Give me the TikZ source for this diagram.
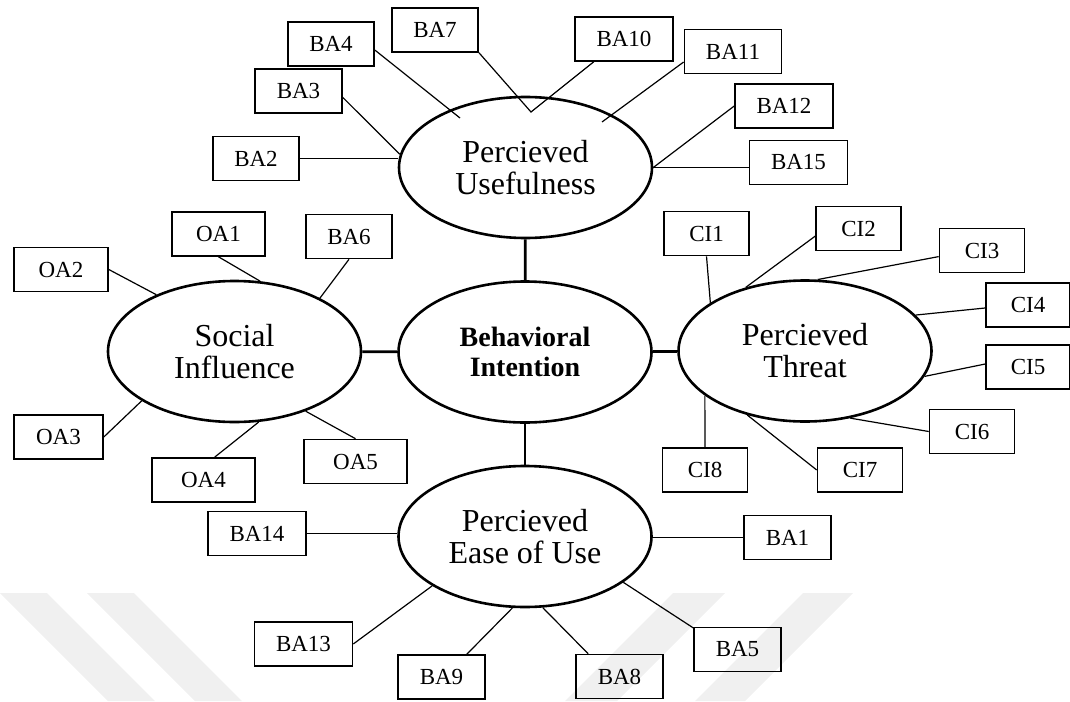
\documentclass[tikz,border=0pt]{standalone}
\usepackage{fontspec}
\setmainfont{Liberation Serif}
\usetikzlibrary{shapes.geometric}
\begin{document}
\begin{tikzpicture}[x=1pt,y=-1pt,
        construct/.style={draw,ellipse,line width=2.6pt,minimum width=253pt,minimum height=141pt,inner sep=0pt,align=center,font=\fontsize{32}{32}\selectfont},
        item/.style={draw,line width=1.6pt,minimum width=85pt,minimum height=44pt,inner xsep=21.5pt,inner ysep=0pt,font=\fontsize{23}{23}\selectfont},
        link/.style={line width=1.2pt},
        bond/.style={line width=2.8pt},
        mark stripe/.style={fill=black!6}]
        \useasboundingbox (0,0) rectangle (1070,701);

        \fill[mark stripe] (0,593) -- (47,593) -- (155,701) -- (108,701) -- cycle;
        \fill[mark stripe] (87,593) -- (134,593) -- (242,701) -- (195,701) -- cycle;
        \fill[mark stripe] (673,593) -- (725,593) -- (617,701) -- (565,701) -- cycle;
        \fill[mark stripe] (803,593) -- (853,593) -- (745,701) -- (695,701) -- cycle;

        \node[construct] (pu) at (525.5,167.5) {Percieved\\Usefulness};
        \node[construct,font=\fontsize{28}{30}\selectfont\bfseries] (bi) at (525,352) {Behavioral\\Intention};
        \node[construct] (si) at (234.5,351.5) {Social\\Influence};
        \node[construct] (pt) at (805,351) {Percieved\\Threat};
        \node[construct] (peu) at (525,536.5) {Percieved\\Ease of Use};

        \draw[bond] (bi) -- (pu);
        \draw[bond] (bi) -- (si);
        \draw[bond] (bi) -- (pt);
        \draw[bond] (bi) -- (peu);

        \node[item] (ba4) at (331,44) {BA4};
        \node[item] (ba3) at (298.5,91) {BA3};
        \node[item] (ba7) at (435,30) {BA7};
        \node[item] (ba2) at (256,158.5) {BA2};
        \node[item] (ba10) at (624,39) {BA10};
        \node[item] (ba11) at (733,51.5) {BA11};
        \node[item] (ba12) at (784,106) {BA12};
        \node[item] (ba15) at (798.5,162.5) {BA15};

        \coordinate (puBA4) at (460,118);
        \coordinate (puBA7) at (531,112);
        \coordinate (puBA11) at (602,122);

        \draw[link] (ba2) -- (ba2 -| pu.west);
        \draw[link] (ba3.-8) -- (pu.174);
        \draw[link] (ba4.-8) -- (puBA4);
        \draw[link] (ba7.south east) -- (puBA7) -- (ba10.217);
        \draw[link] (ba11.192) -- (puBA11);
        \draw[link] (ba12.west) -- (pu.east);
        \draw[link] (pu.east) -- (pu.east -| ba15.west);

        \node[item,minimum width=94pt] (oa2) at (61,269.5) {OA2};
        \node[item,minimum width=93pt] (oa1) at (218.5,234) {OA1};
        \node[item] (ba6) at (349,236.5) {BA6};
        \node[item,minimum width=89pt] (oa3) at (58.5,437) {OA3};
        \node[item,minimum width=103pt] (oa4) at (203.5,480) {OA4};
        \node[item,minimum width=103pt] (oa5) at (355.5,461.5) {OA5};

        \draw[link] (oa2.east) -- (si.144);
        \draw[link] (oa1.south) -- (si.70);
        \draw[link] (ba6.south) -- (si.32);
        \draw[link] (oa3.east) -- (si.208);
        \draw[link] (oa4.64) -- (si.-71);
        \draw[link] (oa5.north) -- (si.-40);

        \node[item] (ci1) at (706.5,233.5) {CI1};
        \node[item] (ci2) at (858.5,228.5) {CI2};
        \node[item] (ci3) at (982,250.5) {CI3};
        \node[item,minimum width=84pt] (ci4) at (1028,305) {CI4};
        \node[item,minimum width=84pt] (ci5) at (1028,367) {CI5};
        \node[item] (ci6) at (972,431.5) {CI6};
        \node[item] (ci7) at (860,470) {CI7};
        \node[item] (ci8) at (705,470) {CI8};

        \draw[link] (ci1.south) -- (pt.153);
        \draw[link] (ci2.190) -- (pt.133);
        \draw[link] (ci3.188) -- (pt.80);
        \draw[link] (ci4.184) -- (pt.18);
        \draw[link] (ci5.176) -- (pt.-12);
        \draw[link] (ci6.west) -- (pt.-56);
        \draw[link] (ci7.west) -- (pt.228);
        \draw[link] (ci8.north) -- (pt.204);

        \node[item] (ba14) at (257,533.5) {BA14};
        \node[item] (ba13) at (303.5,644) {BA13};
        \node[item] (ba9) at (441.5,677) {BA9};
        \node[item] (ba8) at (619.5,676.5) {BA8};
        \node[item] (ba5) at (737.5,649.5) {BA5};
        \node[item] (ba1) at (787.5,537.5) {BA1};

        \draw[link] (ba14) -- (ba14 -| peu.west);
        \draw[link] (ba1) -- (ba1 -| peu.east);
        \draw[link] (ba13.east) -- (peu.208);
        \draw[link] (ba9.42) -- (peu.260);
        \draw[link] (ba8.144) -- (peu.-76);
        \draw[link] (ba5.154) -- (peu.-25);
    \end{tikzpicture}
\end{document}
